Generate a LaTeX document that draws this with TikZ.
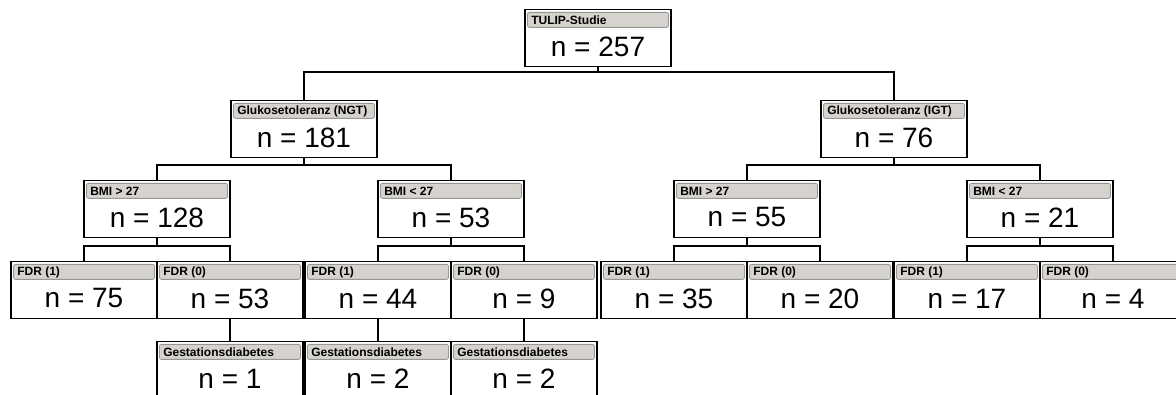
\documentclass[tikz,border=0pt]{standalone}
\usepackage{fontspec}
\setmainfont{Liberation Sans}
\usetikzlibrary{calc}
\definecolor{barfill}{RGB}{214,211,206}
\definecolor{barline}{RGB}{150,150,150}
\tikzset{
  tbox/.style={draw=black, line width=1.2pt, fill=white, minimum width=146pt, minimum height=57pt, inner sep=0pt, anchor=north},
  tbar/.style={draw=barline, line width=0.8pt, fill=barfill, rounded corners=2pt, minimum width=141pt, minimum height=15pt, inner sep=0pt, anchor=north},
  tlab/.style={font=\fontsize{12}{13}\selectfont\bfseries, inner sep=0pt, anchor=west},
  tnum/.style={font=\fontsize{28}{30}\selectfont, inner sep=0pt, anchor=center},
  conn/.style={draw=black, line width=1.4pt},
}
\newcommand{\tb}[5]{%
  \node[tbox] (#1) at (#2,#3) {};
  \node[tbar] (#1b) at ($(#1.north)+(0,3)$) {};
  \node[tlab] (#1t) at ($(#1b.west)+(4,0.5)$) {#4};
  \node[tnum] (#1n) at ($(#1.north)+(0,37.5)$) {#5};
}
\begin{document}
\begin{tikzpicture}[x=1pt,y=-1pt]
\clip (0,0) rectangle (1176,395);
\fill[white] (0,0) rectangle (1176,395);
\coordinate (h1) at (0,72);
\coordinate (h2) at (0,165);
\coordinate (h3) at (0,246);
% row 1
\tb{root}{598}{9}{TULIP-Studie}{n = 257}
% row 2
\tb{ngt}{304}{100}{Glukosetoleranz (NGT)}{n = 181}
\tb{igt}{894}{100}{Glukosetoleranz (IGT)}{n = 76}
% row 3
\tb{na}{157}{180}{BMI > 27}{n = 128}
\tb{nb}{451}{180}{BMI < 27}{n = 53}
\tb{ia}{747}{180}{BMI > 27}{n = 55}
\tb{ib}{1040}{180}{BMI < 27}{n = 21}
% row 4
\tb{naa}{84}{261}{FDR (1)}{n = 75}
\tb{nab}{230}{261}{FDR (0)}{n = 53}
\tb{nba}{378}{261}{FDR (1)}{n = 44}
\tb{nbb}{524}{261}{FDR (0)}{n = 9}
\tb{iaa}{674}{261}{FDR (1)}{n = 35}
\tb{iab}{820}{261}{FDR (0)}{n = 20}
\tb{iba}{967}{261}{FDR (1)}{n = 17}
\tb{ibb}{1113}{261}{FDR (0)}{n = 4}
% row 5
\tb{gab}{230}{341}{Gestationsdiabetes}{n = 1}
\tb{gba}{378}{341}{Gestationsdiabetes}{n = 2}
\tb{gbb}{524}{341}{Gestationsdiabetes}{n = 2}
% connectors
\draw[conn] (root.south) -- (root.south|-h1);
\draw[conn] (ngt.north) -- (ngt.north|-h1) -- (igt.north|-h1) -- (igt.north);
\draw[conn] (ngt.south) -- (ngt.south|-h2);
\draw[conn] (na.north) -- (na.north|-h2) -- (nb.north|-h2) -- (nb.north);
\draw[conn] (igt.south) -- (igt.south|-h2);
\draw[conn] (ia.north) -- (ia.north|-h2) -- (ib.north|-h2) -- (ib.north);
\draw[conn] (na.south) -- (na.south|-h3);
\draw[conn] (naa.north) -- (naa.north|-h3) -- (nab.north|-h3) -- (nab.north);
\draw[conn] (nb.south) -- (nb.south|-h3);
\draw[conn] (nba.north) -- (nba.north|-h3) -- (nbb.north|-h3) -- (nbb.north);
\draw[conn] (ia.south) -- (ia.south|-h3);
\draw[conn] (iaa.north) -- (iaa.north|-h3) -- (iab.north|-h3) -- (iab.north);
\draw[conn] (ib.south) -- (ib.south|-h3);
\draw[conn] (iba.north) -- (iba.north|-h3) -- (ibb.north|-h3) -- (ibb.north);
\draw[conn] (nab.south) -- (gab.north);
\draw[conn] (nba.south) -- (gba.north);
\draw[conn] (nbb.south) -- (gbb.north);
\end{tikzpicture}
\end{document}
